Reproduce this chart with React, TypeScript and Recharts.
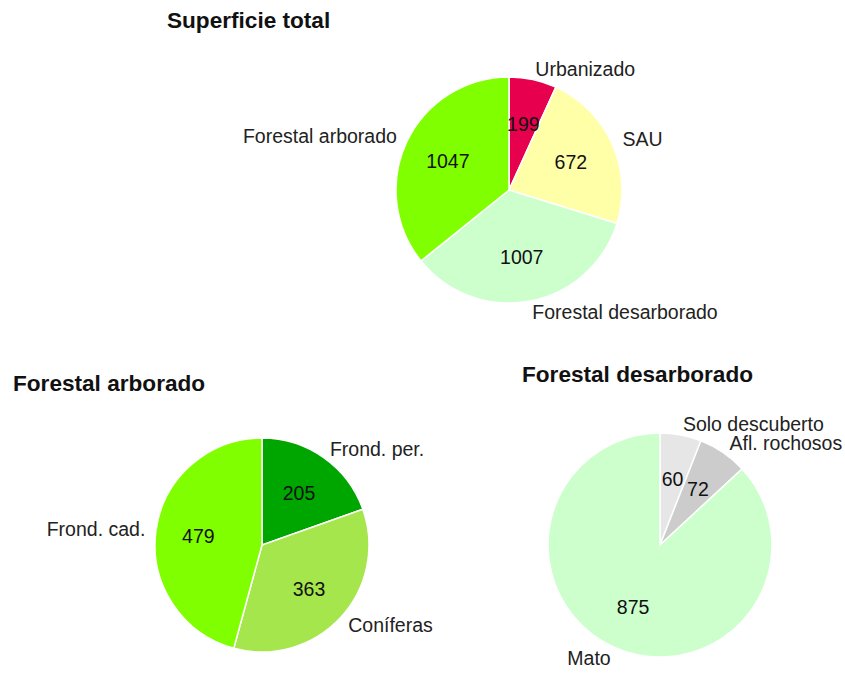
import { PieChart, Pie, Cell } from "recharts";

const totalNames = ["Urbanizado", "SAU", "Forestal desarborado", "Forestal arborado"];
const totalValues = [199, 672, 1007, 1047];
const totalColors = ["#E6004D", "#FFFFA8", "#CCFFCC", "#80FF00"];

const arboradoNames = ["Frond. per.", "Coníferas", "Frond. cad."];
const arboradoValues = [205, 363, 479];
const arboradoColors = ["#00A600", "#A6E64D", "#80FF00"];

const desarboradoNames = ["Solo descuberto", "Afl. rochosos", "Mato"];
const desarboradoValues = [60, 72, 875];
const desarboradoColors = ["#E6E6E6", "#CCCCCC", "#CCFFCC"];

const RAD = Math.PI / 180;
const FONT = "'Liberation Sans', Arial, Helvetica, sans-serif";

function toRows(names: string[], values: number[], colors: string[]) {
  return names.map((name, i) => ({ name, value: values[i], color: colors[i] }));
}

function renderLabel(props: any) {
  const { cx, cy, midAngle, outerRadius, name, value } = props;
  const cos = Math.cos(-midAngle * RAD);
  const sin = Math.sin(-midAngle * RAD);
  const rIn = outerRadius * 0.6;
  const rOut = outerRadius * 1.1;
  return (
    <g>
      <text
        x={cx + rIn * cos}
        y={cy + rIn * sin}
        textAnchor="middle"
        dominantBaseline="central"
        fontFamily={FONT}
        fontSize={19.5}
        fill="#111"
      >
        {value}
      </text>
      <text
        x={cx + rOut * cos}
        y={cy + rOut * sin}
        textAnchor={cos >= 0 ? "start" : "end"}
        dominantBaseline="central"
        fontFamily={FONT}
        fontSize={19.5}
        fill="#222"
      >
        {name}
      </text>
    </g>
  );
}

const W = 845;
const H = 673;

export default function App() {
  const panels = [
    { rows: toRows(totalNames, totalValues, totalColors), cx: 509, cy: 190, r: 113 },
    { rows: toRows(arboradoNames, arboradoValues, arboradoColors), cx: 262, cy: 545, r: 107 },
    { rows: toRows(desarboradoNames, desarboradoValues, desarboradoColors), cx: 660, cy: 545, r: 112 },
  ];

  return (
    <div style={{ position: "absolute", left: 0, top: 0, width: W, height: H, background: "#fff" }}>
      <PieChart width={W} height={H} margin={{ top: 0, right: 0, bottom: 0, left: 0 }}>
        {panels.map((p, k) => (
          <Pie
            key={k}
            data={p.rows}
            dataKey="value"
            nameKey="name"
            cx={p.cx}
            cy={p.cy}
            outerRadius={p.r}
            startAngle={90}
            endAngle={-270}
            stroke="#fff"
            strokeWidth={1.5}
            label={renderLabel}
            labelLine={false}
            isAnimationActive={false}
          >
            {p.rows.map((row, i) => (
              <Cell key={`cell-${i}`} fill={row.color} />
            ))}
          </Pie>
        ))}
      </PieChart>
      <svg
        width={W}
        height={H}
        style={{ position: "absolute", left: 0, top: 0, pointerEvents: "none" }}
      >
        <g fontFamily={FONT} fontSize={22.6} fontWeight="bold" fill="#111">
          <text x={167} y={28}>Superficie total</text>
          <text x={13} y={391}>Forestal arborado</text>
          <text x={522} y={382}>Forestal desarborado</text>
        </g>
      </svg>
    </div>
  );
}
